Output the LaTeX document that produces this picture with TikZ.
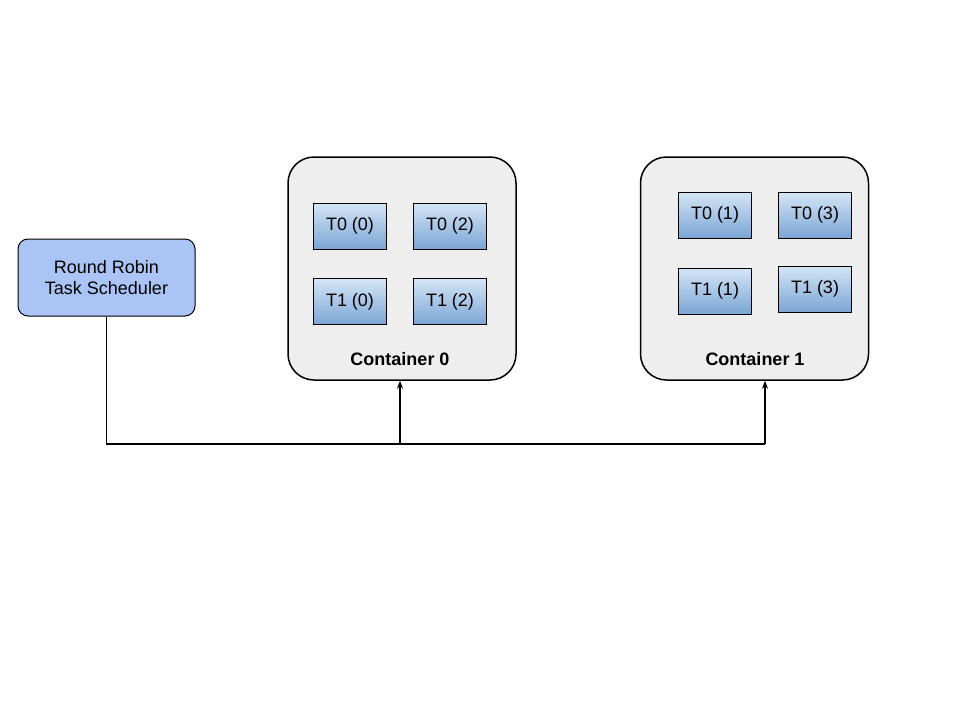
\documentclass[tikz,border=0pt]{standalone}
\usepackage{fontspec}
\setmainfont{Liberation Sans}
\usetikzlibrary{arrows.meta}
\definecolor{schedfill}{HTML}{A9C4F5}
\definecolor{contfill}{HTML}{EEEEEE}
\definecolor{tasktop}{HTML}{D5E5F6}
\definecolor{taskbot}{HTML}{7BA5D5}
\begin{document}
\begin{tikzpicture}  % ------ ordonnanceur et conteneurs --------------
      [x=1pt,y=-1pt,
       every node/.style={font=\fontsize{18}{21}\selectfont},
       sched/.style={draw,line width=1pt,fill=schedfill,rounded corners=10pt,
          minimum width=177pt,minimum height=77pt,align=center},
       cont/.style={draw,line width=1.5pt,fill=contfill,rounded corners=26pt,
          minimum width=228pt,minimum height=223pt},
       task/.style={draw,line width=0.8pt,top color=tasktop,bottom color=taskbot,
          minimum width=73pt,minimum height=46pt},
       fleche/.style={line width=1.5pt,-{Stealth[length=8pt,width=6pt]}}]
    \useasboundingbox (0,0) rectangle (960,720);
    \node[sched] (S) at (106.5,277.5) {Round Robin\\Task Scheduler};

    \node[cont] (C0) at (402,268.5) {};
    \node[cont] (C1) at (754.5,268.5) {};

    \node[task] (T00) at (350,226) {T0 (0)};
    \node[task] (T02) at (450,226) {T0 (2)};
    \node[task] (T10) at (350,301.5) {T1 (0)};
    \node[task] (T12) at (450,301.5) {T1 (2)};

    \node[task] (T01) at (715,215) {T0 (1)};
    \node[task] (T03) at (815,215) {T0 (3)};
    \node[task] (T11) at (715,291) {T1 (1)};
    \node[task] (T13) at (815,289) {T1 (3)};

    \node[font=\fontsize{18}{21}\selectfont\bfseries] (L0) at (400,359) {Container 0};
    \node[font=\fontsize{18}{21}\selectfont\bfseries] (L1) at (755,359) {Container 1};

    \coordinate (B0) at (400,444);
    \coordinate (B1) at (765,444);
    \draw[line width=1.5pt] (S.south) |- (B1);
    \draw[fleche] (B0) -- (B0 |- C0.south);
    \draw[fleche] (B1) -- (B1 |- C1.south);
\end{tikzpicture}
\end{document}
